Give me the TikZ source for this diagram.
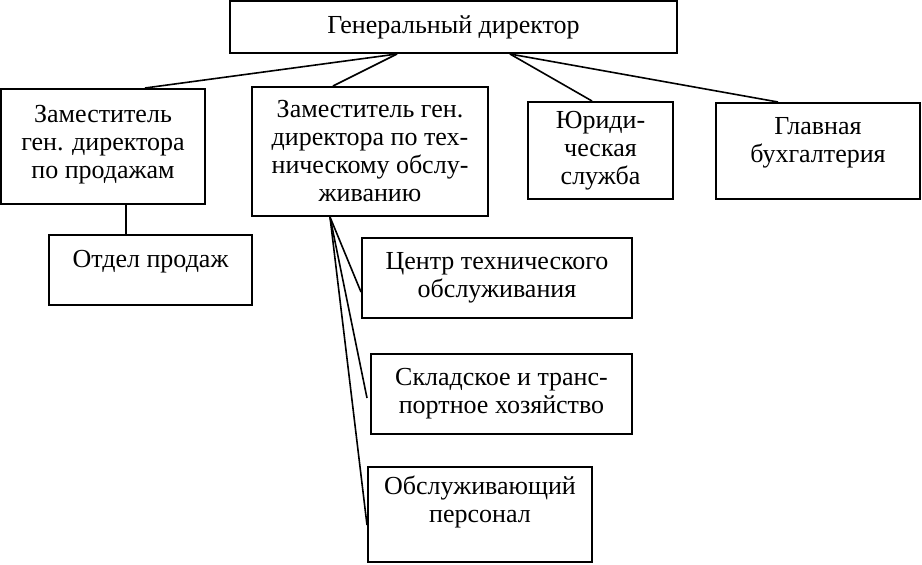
\documentclass[tikz,border=0pt]{standalone}
\usepackage{fontspec}
\setmainfont{Liberation Serif}

\tikzset{
  unitbox/.style={draw, line width=1pt, inner sep=0pt},
  unittext/.style={align=center, inner sep=0pt, font=\fontsize{13}{14}\selectfont},
  link/.style={line width=0.8pt}
}

\begin{document}
\begin{tikzpicture}[x=0.5pt, y=-0.5pt]
  \useasboundingbox (0,0) rectangle (922,564);

  % Top level
  \node[unitbox, minimum width=223.5pt, minimum height=26pt] (dir) at (453.5,27) {};
  \node[unittext] (dirT) at (dir.center) {Генеральный директор};

  % Second level
  \node[unitbox, minimum width=102pt, minimum height=57.5pt] (salesdep) at (103,146.5) {};
  \node[unittext] (salesdepT) at ([yshift=1pt]salesdep.center) {Заместитель\\ген. директора\\по продажам};

  \node[unitbox, minimum width=118pt, minimum height=64.5pt] (techdep) at (370,151.5) {};
  \node[unittext] (techdepT) at (techdep.center) {Заместитель ген.\\директора по тех-\\ническому обслу-\\живанию};

  \node[unitbox, minimum width=72.5pt, minimum height=48.5pt] (legal) at (600.5,150.5) {};
  \node[unittext] (legalT) at (legal.center) {Юриди-\\ческая\\служба};

  \node[unitbox, minimum width=102pt, minimum height=48pt] (acc) at (818,151) {};
  \node[unittext] (accT) at ([yshift=4pt]acc.center) {Главная\\бухгалтерия};

  % Third level
  \node[unitbox, minimum width=101.5pt, minimum height=35pt] (salesdept) at (150.5,270) {};
  \node[unittext] (salesdeptT) at ([yshift=4pt]salesdept.center) {Отдел продаж};

  \node[unitbox, minimum width=135pt, minimum height=40pt] (service) at (497,278) {};
  \node[unittext] (serviceT) at (service.center) {Центр технического\\обслуживания};

  \node[unitbox, minimum width=130.5pt, minimum height=40pt] (store) at (501.5,394) {};
  \node[unittext] (storeT) at (store.center) {Складское и транс-\\портное хозяйство};

  \node[unitbox, minimum width=112pt, minimum height=47.5pt] (staff) at (480,514.5) {};
  \node[unittext] (staffT) at ([yshift=6.5pt]staff.center) {Обслуживающий\\персонал};

  % Links
  \draw[link] ([xshift=-28.25pt]dir.south) -- ([xshift=21pt]salesdep.north);
  \draw[link] ([xshift=-28.25pt]dir.south) -- ([xshift=-18.5pt]techdep.north);
  \draw[link] ([xshift=28.25pt]dir.south) -- ([xshift=-4.25pt]legal.north);
  \draw[link] ([xshift=28.25pt]dir.south) -- ([xshift=-20pt]acc.north);
  \draw[link] ([xshift=11.5pt]salesdep.south) -- ([xshift=-12.25pt]salesdept.north);
  \draw[link] ([xshift=-20pt]techdep.south) -- ([yshift=-7pt]service.west);
  \draw[link] ([xshift=-20pt]techdep.south) -- ([xshift=-1.5pt, yshift=-2pt]store.west);
  \draw[link] ([xshift=-20pt]techdep.south) -- ([yshift=-5.25pt]staff.west);
\end{tikzpicture}
\end{document}
